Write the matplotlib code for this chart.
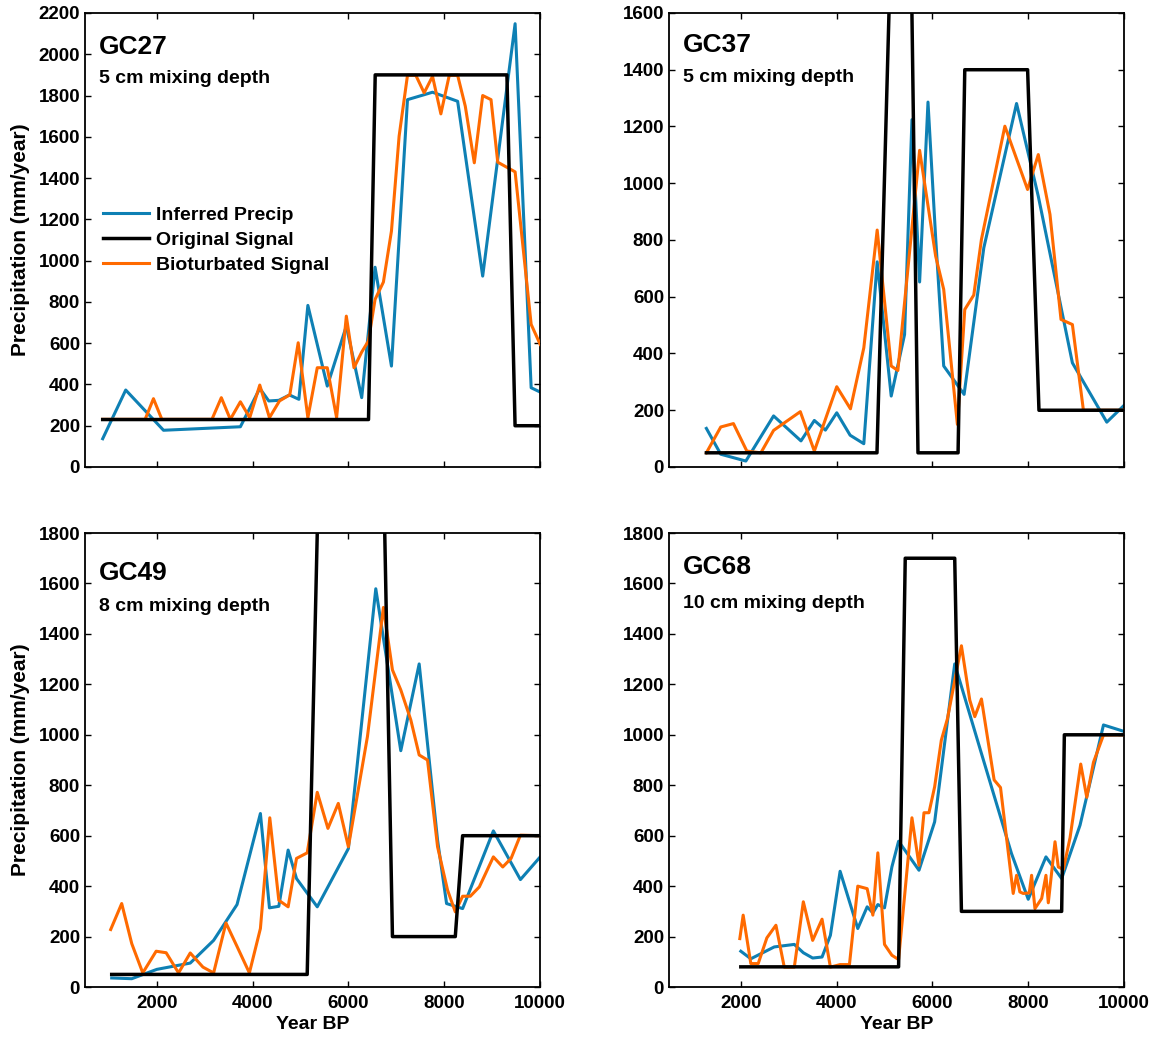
import matplotlib
matplotlib.use("Agg")
import matplotlib.pyplot as plt
import numpy as np

plt.rcParams['font.family'] = ['Liberation Sans', 'DejaVu Sans']
plt.rcParams['font.weight'] = 'bold'

BLUE = '#0E80B4'
ORANGE = '#FF6A00'
BLACK = '#000000'

# ---------------- GC27 ----------------
gc27_orig_x = [870, 6420, 6560, 9310, 9480, 10000]
gc27_orig_y = [230, 230, 1900, 1900, 200, 200]
gc27_inf_x = [870, 1351, 2140, 3745, 4150, 4338, 4547, 4770, 4966, 5154, 5559,
              5957, 6278, 6557, 6899, 7234, 7757, 8281, 8804, 9481, 9816, 10005]
gc27_inf_y = [137, 373, 178, 195, 381, 320, 323, 349, 328, 783, 392,
              683, 336, 968, 489, 1780, 1816, 1772, 925, 2148, 384, 363]
gc27_bio_x = [870, 1756, 1930, 2105, 3151, 3347, 3535, 3745, 3940, 4150, 4352,
              4561, 4777, 4952, 5154, 5350, 5559, 5754, 5957, 6117, 6278, 6417,
              6557, 6731, 6899, 7059, 7234, 7408, 7582, 7757, 7931, 8106, 8281,
              8441, 8629, 8804, 8978, 9118, 9481, 9816, 10005]
gc27_bio_y = [231, 231, 331, 231, 231, 336, 231, 316, 239, 397, 239,
              320, 350, 602, 239, 481, 481, 239, 731, 481, 557, 610,
              812, 896, 1143, 1603, 1898, 1898, 1813, 1893, 1711, 1898, 1898,
              1748, 1474, 1800, 1780, 1477, 1430, 691, 594]

# ---------------- GC37 ----------------
gc37_orig_x = [1281, 4843, 5158, 5540, 5699, 6536, 6676, 7988, 8225, 10000]
gc37_orig_y = [50, 50, 2000, 2000, 50, 50, 1400, 1400, 200, 200]
gc37_inf_x = [1281, 1581, 2105, 2684, 3256, 3535, 3766, 4003, 4282, 4568, 4847,
              5140, 5419, 5573, 5733, 5908, 6068, 6236, 6662, 7073, 7757, 8211,
              8923, 9641, 10025]
gc37_inf_y = [136, 45, 21, 180, 92, 164, 130, 191, 112, 82, 723,
              250, 467, 1224, 652, 1286, 808, 356, 256, 772, 1281, 954,
              367, 158, 221]
gc37_bio_x = [1281, 1581, 1846, 2126, 2419, 2684, 3242, 3535, 4003, 4289, 4568,
              4847, 5140, 5279, 5733, 6068, 6236, 6522, 6676, 6864, 7024, 7513,
              7987, 8211, 8455, 8685, 8923, 9153, 10000]
gc37_bio_y = [50, 141, 153, 56, 50, 129, 195, 56, 283, 205, 420,
              835, 356, 340, 1116, 743, 626, 150, 555, 606, 802, 1201,
              978, 1101, 890, 520, 502, 200, 200]

# ---------------- GC49 ----------------
gc49_orig_x = [1058, 5140, 5374, 6739, 6920, 8232, 8385, 10000]
gc49_orig_y = [50, 50, 2000, 2000, 200, 200, 600, 600]
gc49_inf_x = [1058, 1477, 2000, 2698, 3186, 3675, 4163, 4352, 4547, 4742, 4917,
              5350, 6000, 6572, 7094, 7478, 7862, 8050, 8385, 9027, 9592, 10005]
gc49_inf_y = [36, 33, 70, 95, 185, 327, 688, 314, 320, 543, 430,
              318, 549, 1579, 937, 1281, 582, 331, 311, 619, 426, 516]
gc49_bio_x = [1037, 1267, 1477, 1707, 1986, 2195, 2454, 2698, 2963, 3186, 3444,
              3675, 3933, 4163, 4359, 4547, 4742, 4917, 5140, 5350, 5573, 5789,
              6000, 6398, 6731, 6920, 7094, 7303, 7478, 7652, 7862, 8071, 8232,
              8385, 8546, 8734, 9027, 9223, 9397, 9592, 10000]
gc49_bio_y = [228, 331, 172, 56, 142, 136, 56, 135, 79, 56, 254,
              161, 56, 232, 671, 344, 318, 510, 532, 772, 629, 728,
              556, 993, 1505, 1257, 1178, 1059, 920, 900, 556, 384, 298,
              360, 360, 397, 516, 476, 510, 602, 600]

# ---------------- GC68 ----------------
gc68_orig_x = [2000, 5294, 5433, 6466, 6606, 8699, 8755, 10000]
gc68_orig_y = [80, 80, 1700, 1700, 300, 300, 1000, 1000]
gc68_inf_x = [2000, 2209, 2698, 3117, 3305, 3500, 3696, 3870, 4073, 4442, 4638,
              4757, 4861, 5000, 5154, 5294, 5720, 6047, 6466, 7024, 7652, 8001,
              8371, 8699, 9083, 9572, 10025]
gc68_inf_y = [142, 112, 159, 169, 136, 115, 119, 205, 459, 232, 318,
              294, 327, 314, 476, 578, 463, 655, 1281, 926, 529, 348,
              516, 430, 642, 1039, 1012]
gc68_bio_x = [1979, 2049, 2209, 2363, 2544, 2733, 2907, 3117, 3305, 3500, 3696,
              3870, 4073, 4268, 4442, 4638, 4757, 4861, 5000, 5154, 5294, 5573,
              5720, 5824, 5928, 6047, 6187, 6313, 6606, 6780, 6885, 7024, 7289,
              7422, 7687, 7757, 7826, 7896, 8022, 8071, 8141, 8281, 8371, 8420,
              8560, 8629, 8734, 8874, 9097, 9223, 9363, 9572, 10000]
gc68_bio_y = [192, 285, 93, 93, 195, 245, 79, 79, 338, 185, 269,
              79, 89, 89, 400, 390, 285, 532, 169, 126, 109, 671,
              483, 691, 691, 794, 979, 1063, 1353, 1138, 1072, 1142, 821,
              791, 371, 443, 377, 371, 373, 443, 311, 351, 443, 334,
              576, 476, 466, 592, 884, 752, 891, 999, 1000]

panels = [
    dict(name='GC27', depth='5 cm mixing depth', ymax=2200,
         ox=gc27_orig_x, oy=gc27_orig_y, ix=gc27_inf_x, iy=gc27_inf_y,
         bx=gc27_bio_x, by=gc27_bio_y, rect=[0.0735, 0.5501, 0.3936, 0.4374],
         ty=(0.910, 0.846)),
    dict(name='GC37', depth='5 cm mixing depth', ymax=1600,
         ox=gc37_orig_x, oy=gc37_orig_y, ix=gc37_inf_x, iy=gc37_inf_y,
         bx=gc37_bio_x, by=gc37_bio_y, rect=[0.5787, 0.5501, 0.3936, 0.4374],
         ty=(0.914, 0.848)),
    dict(name='GC49', depth='8 cm mixing depth', ymax=1800,
         ox=gc49_orig_x, oy=gc49_orig_y, ix=gc49_inf_x, iy=gc49_inf_y,
         bx=gc49_bio_x, by=gc49_bio_y, rect=[0.0735, 0.0491, 0.3936, 0.4374],
         ty=(0.896, 0.828)),
    dict(name='GC68', depth='10 cm mixing depth', ymax=1800,
         ox=gc68_orig_x, oy=gc68_orig_y, ix=gc68_inf_x, iy=gc68_inf_y,
         bx=gc68_bio_x, by=gc68_bio_y, rect=[0.5787, 0.0491, 0.3936, 0.4374],
         ty=(0.910, 0.835)),
]

x_ticks = [2000, 4000, 6000, 8000, 10000]

fig = plt.figure(figsize=(11.56, 10.38), dpi=100)

for i, p in enumerate(panels):
    ax = fig.add_axes(p['rect'])
    l1, = ax.plot(p['ix'], p['iy'], color=BLUE, lw=2.2, zorder=2,
                  label='Inferred Precip')
    l3, = ax.plot(p['bx'], p['by'], color=ORANGE, lw=2.2, zorder=3,
                  label='Bioturbated Signal')
    l2, = ax.plot(p['ox'], p['oy'], color=BLACK, lw=2.5, zorder=4,
                  label='Original Signal')
    ax.set_xlim(500, 10000)
    ax.set_ylim(0, p['ymax'])
    ax.set_xticks(x_ticks)
    ax.set_yticks(np.arange(0, p['ymax'] + 1, 200))
    ax.tick_params(direction='in', top=True, right=True, length=4, width=1,
                   labelsize=13.5)
    ax.tick_params(axis='y', pad=3.5)
    ax.tick_params(axis='x', pad=5.5)
    for lab in ax.get_xticklabels() + ax.get_yticklabels():
        lab.set_fontweight('bold')
    for s in ax.spines.values():
        s.set_linewidth(1.3)
    if i < 2:
        ax.set_xticklabels([])
    else:
        ax.set_xlabel('Year BP', fontsize=14, fontweight='bold', labelpad=3)
    if i % 2 == 0:
        ax.set_ylabel('Precipitation (mm/year)', fontsize=15,
                      fontweight='bold', labelpad=6)
    ax.text(0.031, p['ty'][0], p['name'], transform=ax.transAxes,
            fontsize=19, fontweight='bold')
    ax.text(0.031, p['ty'][1], p['depth'], transform=ax.transAxes,
            fontsize=14, fontweight='bold')
    if i == 0:
        ax.legend(handles=[l1, l2, l3], loc='center left',
                  bbox_to_anchor=(0.039, 0.499), frameon=False,
                  handlelength=2.4, handletextpad=0.36,
                  labelspacing=0.38, borderpad=0, borderaxespad=0,
                  prop={'weight': 'bold', 'size': 14})

fig.savefig('out.png', dpi=100)
